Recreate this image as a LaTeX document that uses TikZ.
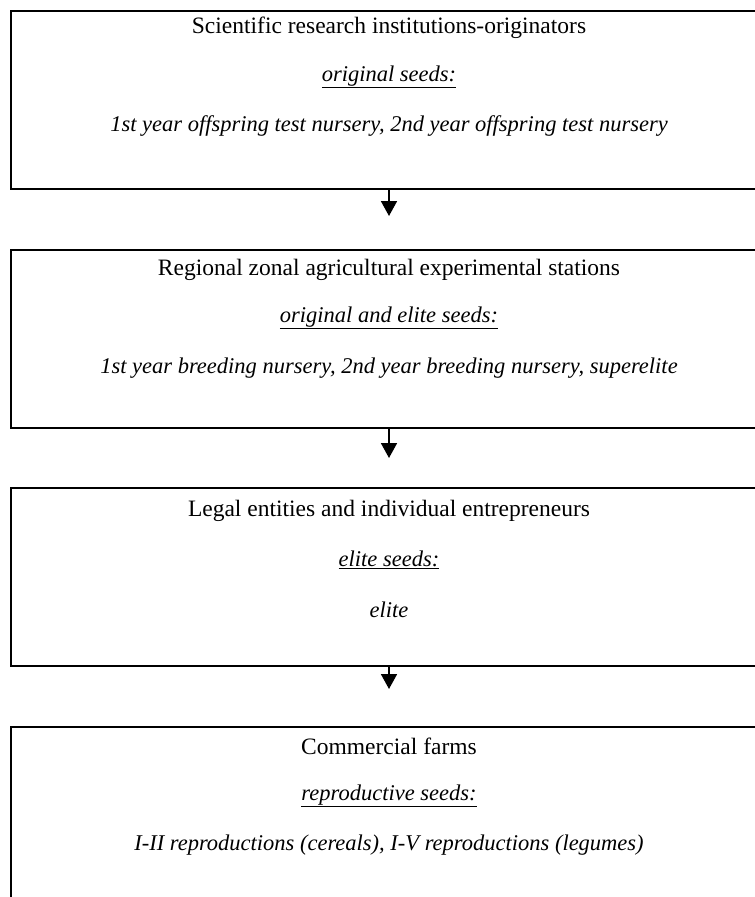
\documentclass[tikz,border=0pt]{standalone}
\usepackage{fontspec}
\setmainfont{Liberation Serif}[ItalicFont={Liberation Serif Italic}]
\usetikzlibrary{arrows.meta}
\begin{document}
\begin{tikzpicture}[x=1pt,y=-1pt,
  stagebox/.style={draw, line width=2.5pt, minimum width=756pt, minimum height=178pt, inner sep=0pt},
  headtxt/.style={font=\fontsize{23.5}{27}\selectfont, inner sep=0pt, anchor=center},
  seedtxt/.style={font=\fontsize{22.5}{26}\selectfont\itshape, inner sep=0pt, anchor=center},
  flow/.style={line width=1.8pt, -{Triangle[width=16pt,length=15pt]}}]
\useasboundingbox (0,0) rectangle (755,897);

\node[stagebox] (b1) at (389,100) {};
\node[stagebox] (b2) at (389,339) {};
\node[stagebox] (b3) at (389,577) {};
\node[stagebox] (b4) at (389,816) {};

\node[headtxt] (h1) at (389,28) {Scientific research institutions-originators};
\node[seedtxt] (s1) at (389,77) {\underline{original seeds:}};
\node[seedtxt] (l1) at (389,126) {1st year offspring test nursery, 2nd year offspring test nursery};

\node[headtxt] (h2) at (389,270) {Regional zonal agricultural experimental stations};
\node[seedtxt] (s2) at (389,318) {\underline{original and elite seeds:}};
\node[seedtxt] (l2) at (389,368) {1st year breeding nursery, 2nd year breeding nursery, superelite};

\node[headtxt] (h3) at (389,511) {Legal entities and individual entrepreneurs};
\node[seedtxt] (s3) at (389,560) {\underline{elite seeds:}};
\node[seedtxt] (l3) at (389,610) {elite};

\node[headtxt] (h4) at (389,746) {Commercial farms};
\node[seedtxt] (s4) at (389,796) {\underline{reproductive seeds:}};
\node[seedtxt] (l4) at (389,845) {I-II reproductions (cereals), I-V reproductions (legumes)};

\coordinate (a1) at (389,216);
\coordinate (a2) at (389,458);
\coordinate (a3) at (389,689);
\draw[flow] (b1.south) -- (a1);
\draw[flow] (b2.south) -- (a2);
\draw[flow] (b3.south) -- (a3);
\end{tikzpicture}
\end{document}
